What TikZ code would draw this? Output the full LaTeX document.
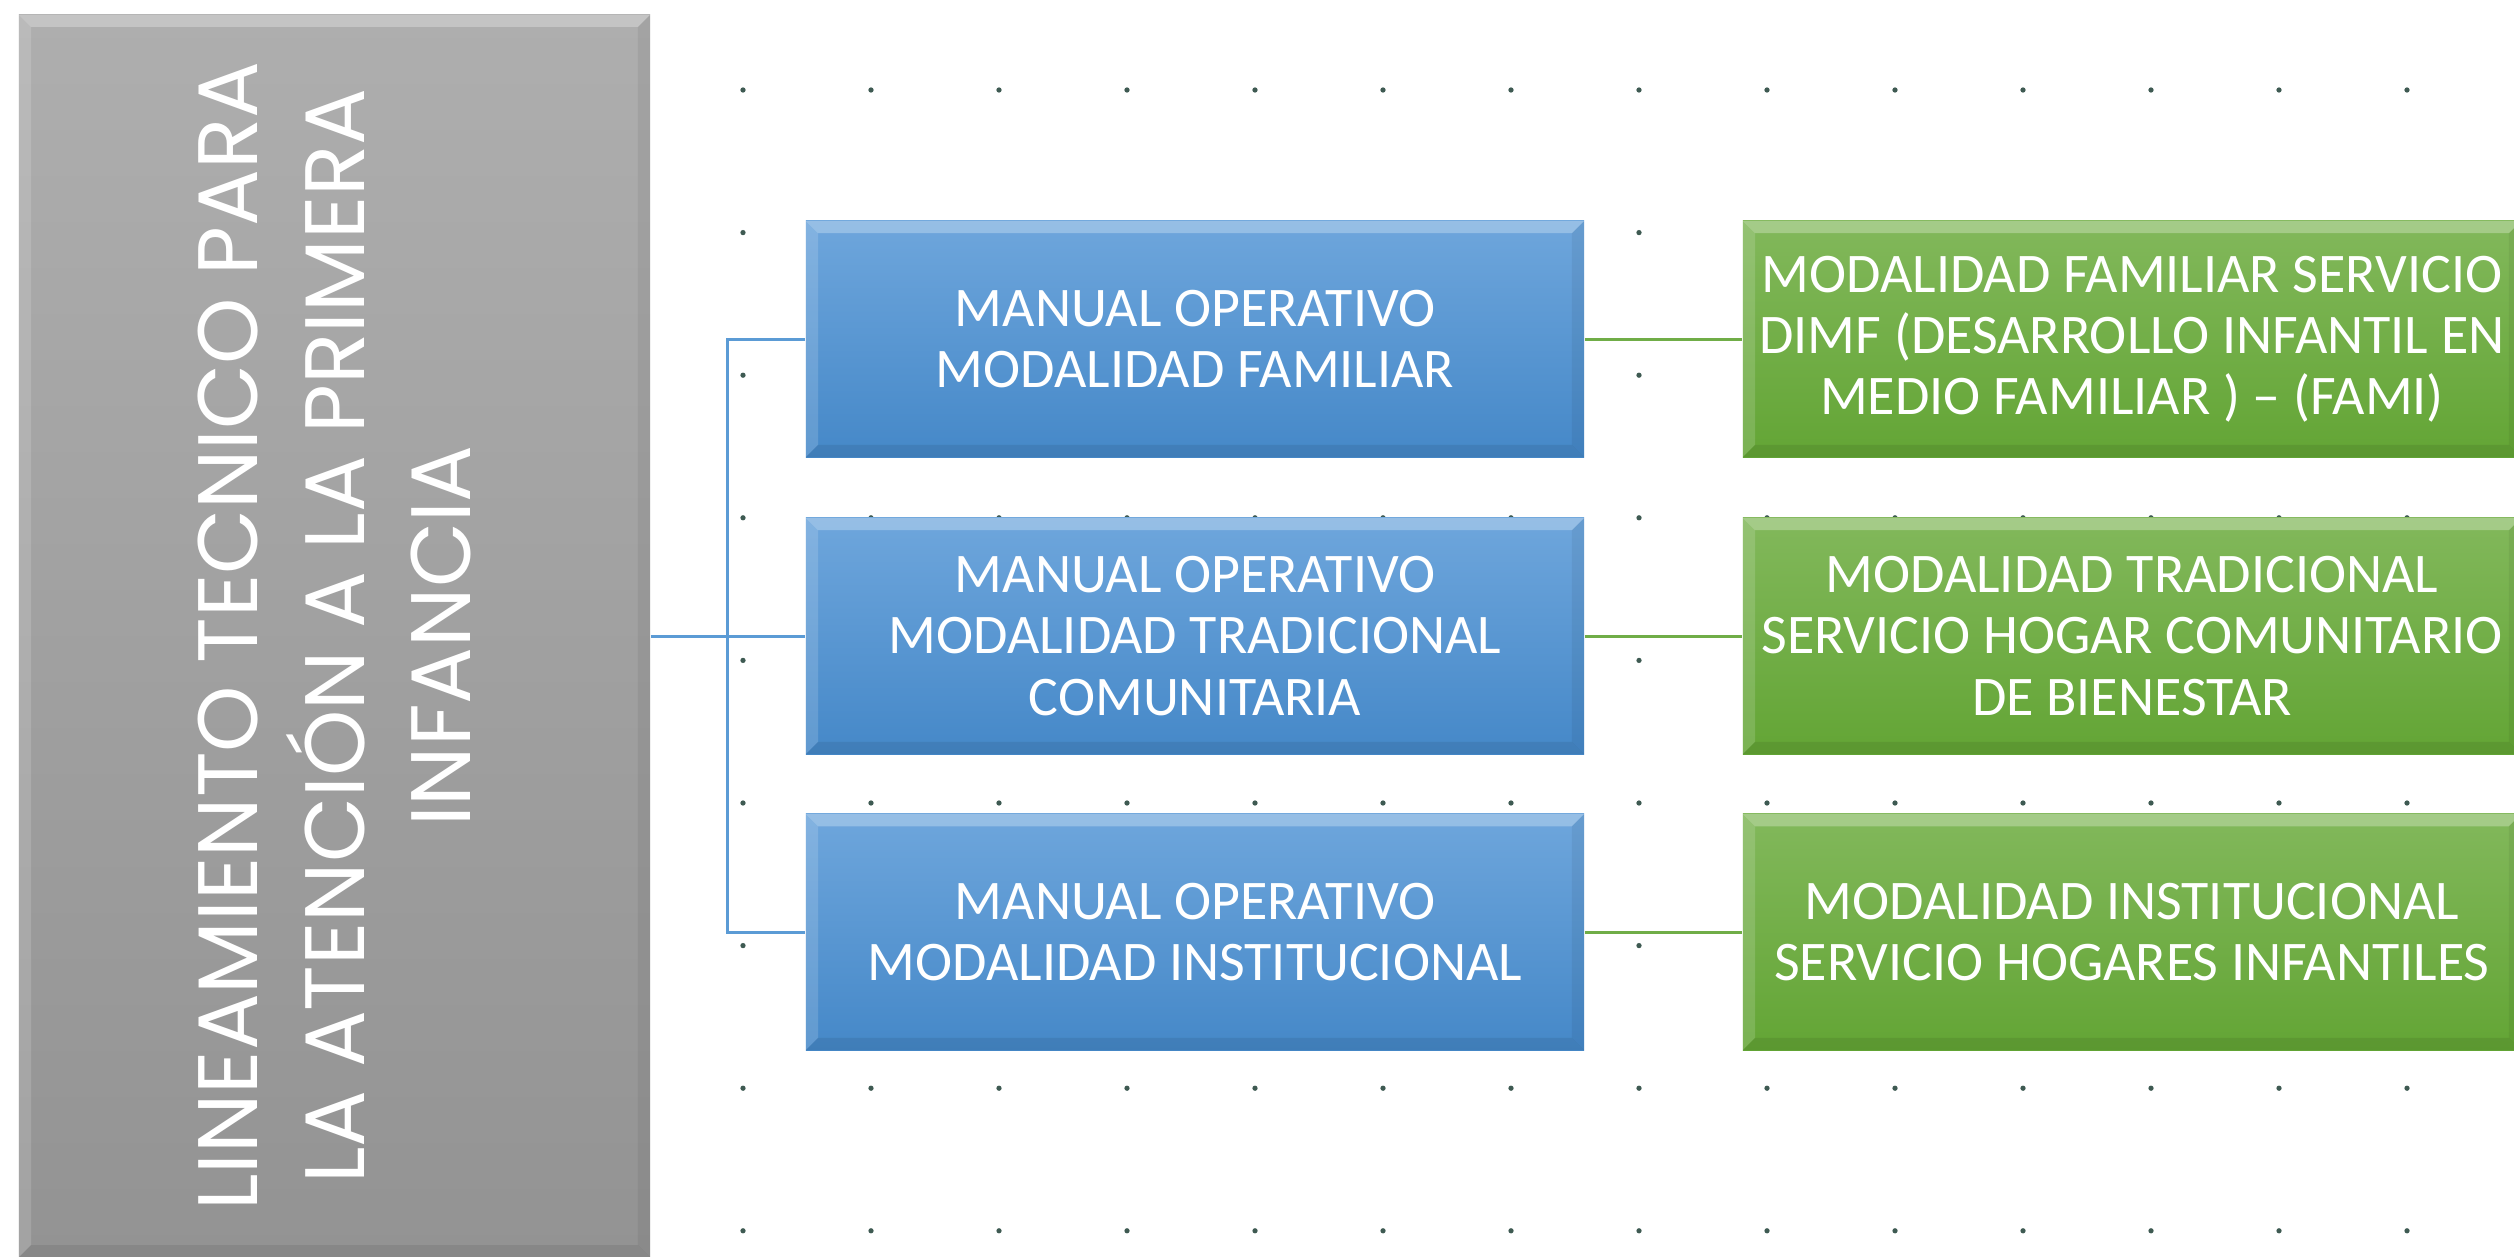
\documentclass[tikz,border=0pt]{standalone}
\usepackage{fontspec}
\setmainfont{Carlito}
\newfontfamily\titlefont{Poppins}
\definecolor{grayTop}{HTML}{AEAEAE}
\definecolor{grayBot}{HTML}{939393}
\definecolor{blueTop}{HTML}{6EA6DC}
\definecolor{blueBot}{HTML}{4588C8}
\definecolor{greenTop}{HTML}{82B85B}
\definecolor{greenBot}{HTML}{63A535}
\definecolor{blueLine}{HTML}{5B9BD5}
\definecolor{greenLine}{HTML}{70AD47}
\definecolor{dotc}{HTML}{3E5A52}
\tikzset{
  bevel/.style={path picture={
    \fill[white,opacity=0.28] (path picture bounding box.north west) -- (path picture bounding box.north east)
      -- ([xshift=-3.5pt,yshift=-3.5pt]path picture bounding box.north east) -- ([xshift=3.5pt,yshift=-3.5pt]path picture bounding box.north west) -- cycle;
    \fill[white,opacity=0.15] (path picture bounding box.north west) -- ([xshift=3.5pt,yshift=-3.5pt]path picture bounding box.north west)
      -- ([xshift=3.5pt,yshift=3.5pt]path picture bounding box.south west) -- (path picture bounding box.south west) -- cycle;
    \fill[black,opacity=0.06] (path picture bounding box.north east) -- ([xshift=-3.5pt,yshift=-3.5pt]path picture bounding box.north east)
      -- ([xshift=-3.5pt,yshift=3.5pt]path picture bounding box.south east) -- (path picture bounding box.south east) -- cycle;
    \fill[black,opacity=0.08] (path picture bounding box.south west) -- ([xshift=3.5pt,yshift=3.5pt]path picture bounding box.south west)
      -- ([xshift=-3.5pt,yshift=3.5pt]path picture bounding box.south east) -- (path picture bounding box.south east) -- cycle;
  }},
  titlebox/.style={rectangle, inner sep=0pt, minimum width=6.31cm, minimum height=12.42cm,
    top color=grayTop, bottom color=grayBot, bevel},
  titletxt/.style={text=white, align=center, rotate=90, inner sep=0pt,
    font=\titlefont\fontsize{24pt}{30.2pt}\selectfont},
  manual/.style={rectangle, inner sep=0pt, minimum width=7.78cm, minimum height=2.36cm,
    top color=blueTop, bottom color=blueBot, bevel, text=white, align=center,
    font=\fontsize{15.9pt}{17.4pt}\selectfont},
  servicio/.style={rectangle, inner sep=0pt, minimum width=7.78cm, minimum height=2.36cm,
    top color=greenTop, bottom color=greenBot, bevel, text=white, align=center,
    font=\fontsize{15.9pt}{17.4pt}\selectfont},
  blueconn/.style={draw=blueLine, line width=0.85pt},
  greenconn/.style={draw=greenLine, line width=0.85pt},
}
\begin{document}
\begin{tikzpicture}[x=0.01cm, y=-0.01cm]
\useasboundingbox (0,0) rectangle (2514,1257);
\clip (0,0) rectangle (2514,1257);
\fill[white] (0,0) rectangle (2514,1257);
% dot grid
\foreach \i in {0,...,13}{
  \foreach \j in {0,...,8}{
    \fill[dotc] ({743+128*\i},{90+142.6*\j}) circle[radius=0.75pt];
  }
}
% title
\node[titlebox] (title) at (334.5,636) {};
\node[titletxt] (titletext) at (title.center) {LINEAMIENTO TECNICO PARA\\LA ATENCIÓN A LA PRIMERA\\INFANCIA};
% manuals
\node[manual] (m1) at (1195,339) {MANUAL OPERATIVO\\MODALIDAD FAMILIAR};
\node[manual] (m2) at (1195,636) {MANUAL OPERATIVO\\MODALIDAD TRADICIONAL\\COMUNITARIA};
\node[manual] (m3) at (1195,932) {MANUAL OPERATIVO\\MODALIDAD INSTITUCIONAL};
% services
\node[servicio] (s1) at (2132,339) {MODALIDAD FAMILIAR SERVICIO\\DIMF (DESARROLLO INFANTIL EN\\MEDIO FAMILIAR ) – (FAMI)};
\node[servicio] (s2) at (2132,636) {MODALIDAD TRADICIONAL\\SERVICIO HOGAR COMUNITARIO\\DE BIENESTAR};
\node[servicio] (s3) at (2132,932) {MODALIDAD INSTITUCIONAL\\SERVICIO HOGARES INFANTILES};
% connectors
\draw[blueconn] (title.east |- m2.west) -- (m2.west);
\draw[blueconn] (m1.west) -- ++(-78,0) |- (m3.west);
\draw[greenconn] (m1.east) -- (s1.west);
\draw[greenconn] (m2.east) -- (s2.west);
\draw[greenconn] (m3.east) -- (s3.west);
\end{tikzpicture}
\end{document}
